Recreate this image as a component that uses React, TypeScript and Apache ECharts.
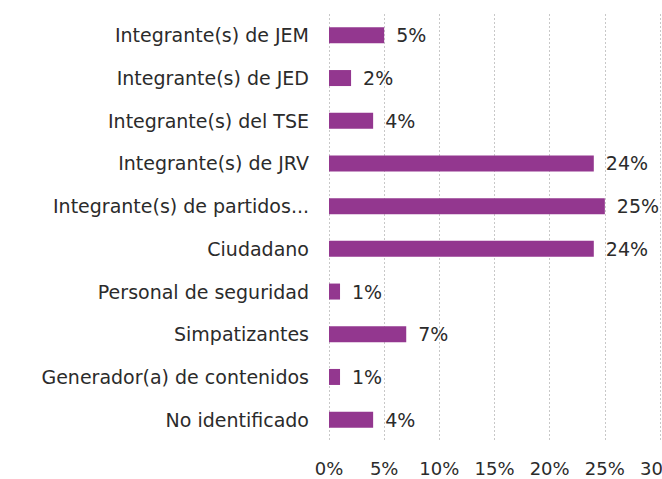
import React, { useEffect, useRef } from "react";
import * as echarts from "echarts";

const categories = [
  "Integrante(s) de JEM",
  "Integrante(s) de JED",
  "Integrante(s) del TSE",
  "Integrante(s) de JRV",
  "Integrante(s) de partidos...",
  "Ciudadano",
  "Personal de seguridad",
  "Simpatizantes",
  "Generador(a) de contenidos",
  "No identificado",
];
const values = [5, 2, 4, 24, 25, 24, 1, 7, 1, 4];
const xTicks = [0, 5, 10, 15, 20, 25, 30];

export default function App() {
  const ref = useRef<HTMLDivElement>(null);
  useEffect(() => {
    document.body.style.margin = "0";
    const chart = echarts.init(ref.current!, null, { renderer: "svg" });
    const font = "DejaVu Sans";
    chart.setOption({
      animation: false,
      grid: {
        left: 329,
        top: 14,
        width: 331,
        height: 427,
        containLabel: false,
        outerBoundsMode: "none",
      },
      xAxis: {
        type: "value",
        min: xTicks[0],
        max: xTicks[xTicks.length - 1],
        interval: 5,
        axisLine: { show: false },
        axisTick: { show: false },
        splitLine: { show: true, lineStyle: { color: "#c8c8c8", type: [2, 2], width: 1 } },
        axisLabel: {
          formatter: (v: number) => v + "%",
          color: "#2b2b2b",
          fontFamily: font,
          fontSize: 18,
          margin: 18,
          hideOverlap: false,
        },
      },
      yAxis: {
        type: "category",
        inverse: true,
        data: categories,
        axisLine: { show: false },
        axisTick: { show: false },
        axisLabel: { color: "#2b2b2b", fontFamily: font, fontSize: 19, margin: 20 },
      },
      series: [
        {
          type: "bar",
          data: values,
          barWidth: 16,
          itemStyle: { color: "#93378f" },
          label: {
            show: true,
            position: "right",
            distance: 12,
            formatter: (p: any) => p.value + "%",
            color: "#2b2b2b",
            fontFamily: font,
            fontSize: 19,
          },
        },
      ],
    });
    return () => chart.dispose();
  }, []);
  return <div ref={ref} style={{ width: 662, height: 479 }} />;
}
